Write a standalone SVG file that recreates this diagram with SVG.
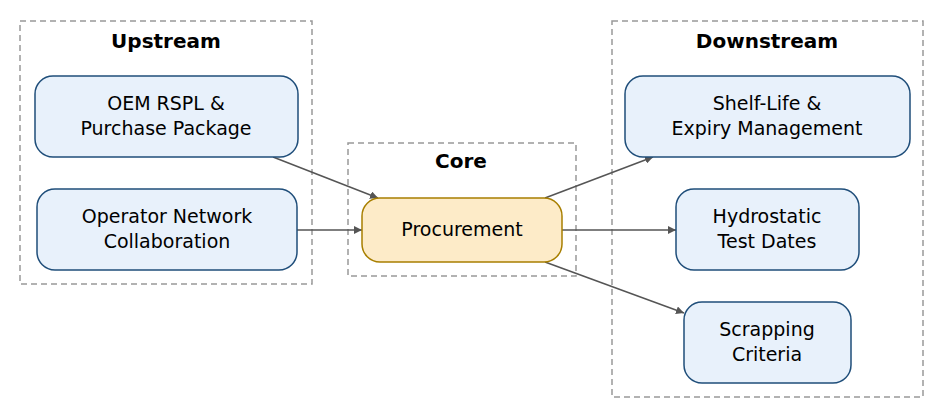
<svg xmlns="http://www.w3.org/2000/svg" width="946" height="420" viewBox="0 0 946 420">
<style>
text{font-family:"DejaVu Sans",sans-serif;font-size:19px;fill:#000;text-anchor:middle}
.t{font-weight:bold;font-size:20px}
.c{fill:none;stroke:#999;stroke-width:1.5;stroke-dasharray:6,4}
.n{fill:#e8f1fb;stroke:#1f4e7a;stroke-width:1.5}
.p{fill:#fdebc8;stroke:#a87f00;stroke-width:1.5}
.e{stroke:#555;stroke-width:1.5;fill:none;marker-end:url(#a)}
</style>
<defs><marker id="a" viewBox="0 0 10 10" refX="10" refY="5" markerWidth="8" markerHeight="8" orient="auto" markerUnits="userSpaceOnUse"><path d="M0,0L10,5L0,10z" fill="#555"/></marker></defs>
<g id="upstream"><rect class="c" x="20" y="21" width="292" height="263"/><text class="t" x="166" y="48">Upstream</text></g>
<g id="core"><rect class="c" x="348" y="143" width="228" height="133"/><text class="t" x="461" y="168">Core</text></g>
<g id="downstream"><rect class="c" x="612" y="21" width="311" height="376"/><text class="t" x="767" y="48">Downstream</text></g>
<g id="edges">
<path class="e" d="M273,157L378,198"/>
<path class="e" d="M297,230L362,230"/>
<path class="e" d="M545,198L653,157"/>
<path class="e" d="M562,230L676,230"/>
<path class="e" d="M545,262L684,313"/>
</g>
<g id="oem"><rect class="n" x="35" y="76" width="263" height="81" rx="18"/><text x="166" y="110">OEM RSPL &amp;</text><text x="166" y="135">Purchase Package</text></g>
<g id="operator"><rect class="n" x="37" y="189" width="260" height="81" rx="18"/><text x="167" y="223">Operator Network</text><text x="167" y="248">Collaboration</text></g>
<g id="procurement"><rect class="p" x="362" y="198" width="200" height="64" rx="18"/><text x="462" y="236">Procurement</text></g>
<g id="shelf"><rect class="n" x="625" y="76" width="285" height="81" rx="18"/><text x="767" y="110">Shelf-Life &amp;</text><text x="767" y="135">Expiry Management</text></g>
<g id="hydro"><rect class="n" x="676" y="189" width="183" height="81" rx="18"/><text x="767" y="223">Hydrostatic</text><text x="767" y="248">Test Dates</text></g>
<g id="scrap"><rect class="n" x="684" y="302" width="167" height="81" rx="18"/><text x="767" y="336">Scrapping</text><text x="767" y="361">Criteria</text></g>
</svg>
